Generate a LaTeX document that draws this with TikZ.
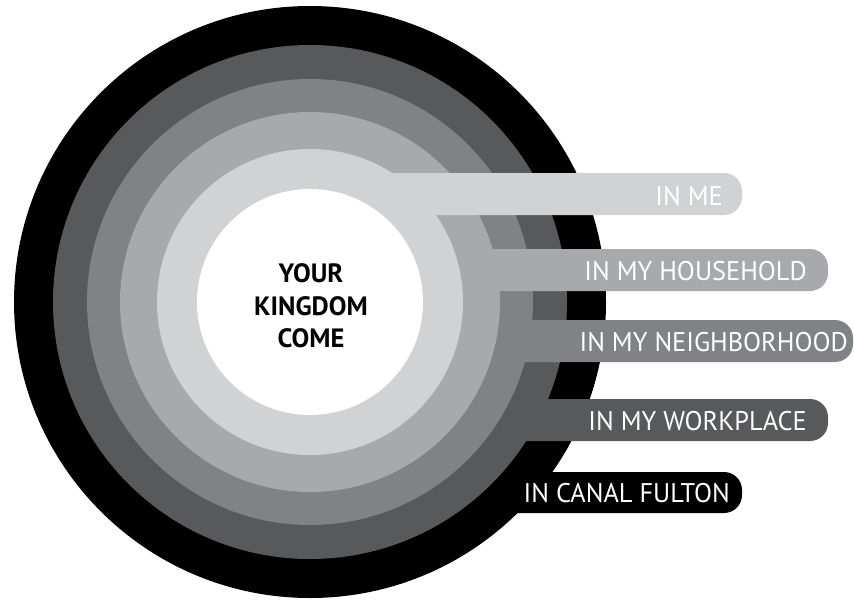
\documentclass[tikz,border=0pt]{standalone}
\usepackage{fontspec}
\newfontfamily\barfont[FakeStretch=0.975]{PT Sans}
\newfontfamily\hubfont{PT Sans Bold}
\definecolor{ringme}{HTML}{D1D2D4}
\definecolor{ringhouse}{HTML}{A7A9AC}
\definecolor{ringhood}{HTML}{808285}
\definecolor{ringwork}{HTML}{58595B}
\definecolor{ringtown}{HTML}{000000}
\begin{document}
\begin{tikzpicture}[x=1pt,y=-1pt,
    barshape/.style={rounded corners=18pt},
    bartext/.style={text=white,anchor=east,inner sep=0pt,font=\barfont\fontsize{27}{27}\selectfont}]
    \useasboundingbox (0,0) rectangle (854,605);
    % rings from the outside in, each with its bar
    \fill[ringtown] (310,302) circle (296);
    \fill[ringtown,barshape] (310,472) rectangle (742,513);
    \fill[ringwork] (310,302) circle (257);
    \fill[ringwork,barshape] (310,399) rectangle (828,441);
    \fill[ringhood] (310,302) circle (223);
    \fill[ringhood,barshape] (310,320) rectangle (853,362);
    \fill[ringhouse] (310,302) circle (190);
    \fill[ringhouse,barshape] (310,249) rectangle (828,291);
    \fill[ringme] (310,302) circle (153);
    \fill[ringme,barshape] (310,173) rectangle (742,215);
    \fill[white] (310,302) circle (113);
    % labels
    \node[bartext] (me) at (723,196) {IN ME};
    \node[bartext] (household) at (807,271) {IN MY HOUSEHOLD};
    \node[bartext] (neighborhood) at (848,342) {IN MY NEIGHBORHOOD};
    \node[bartext] (workplace) at (807,421) {IN MY WORKPLACE};
    \node[bartext] (town) at (730,493) {IN CANAL FULTON};
    \node[align=center,inner sep=0pt,font=\hubfont\fontsize{26.5}{32.5}\selectfont] (kingdom) at (311,306) {YOUR\\KINGDOM\\COME};
\end{tikzpicture}
\end{document}
